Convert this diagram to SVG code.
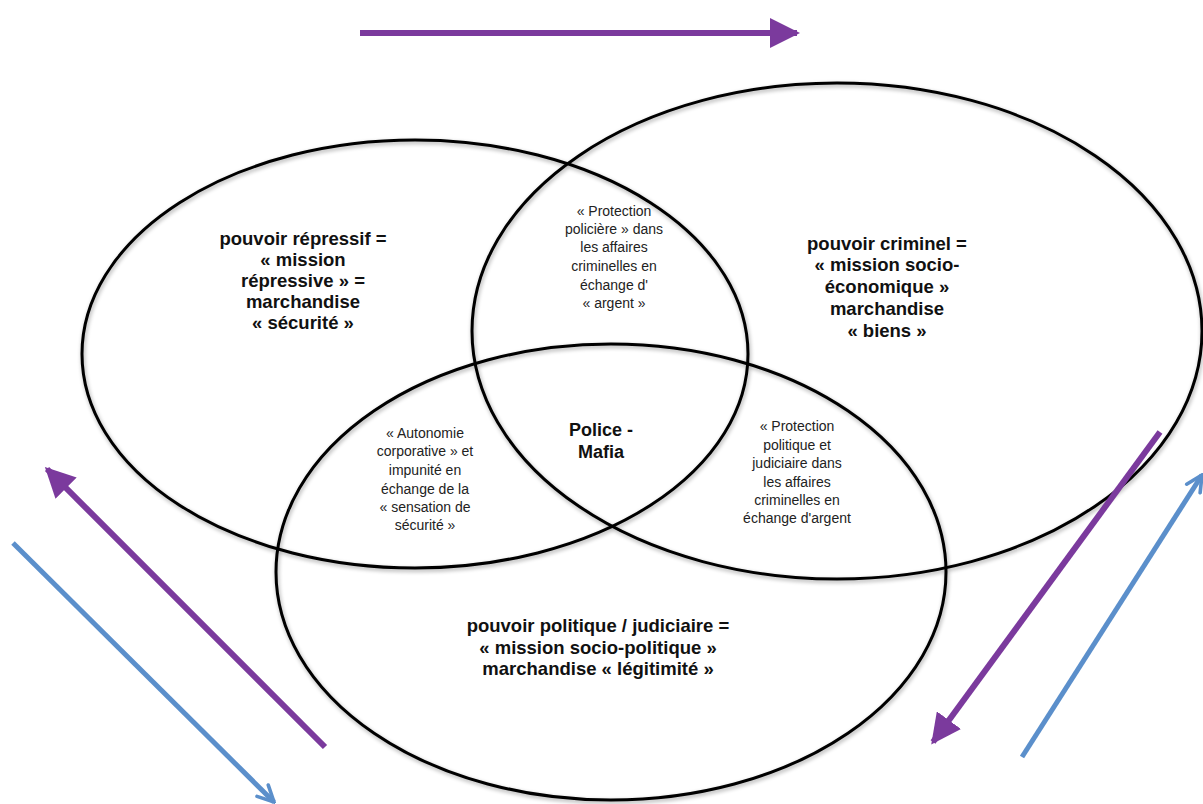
<svg xmlns="http://www.w3.org/2000/svg" width="1203" height="804" viewBox="0 0 1203 804">
<defs>
<style>
.ell{fill:none;stroke:#000;stroke-width:3}
.big{font-family:"Liberation Sans",Arial,sans-serif;font-weight:bold;font-size:18.5px;fill:#111;text-anchor:middle}
.sm{font-family:"Liberation Sans",Arial,sans-serif;font-size:14px;fill:#222;text-anchor:middle}
.pu{stroke:#7b3a9d;stroke-width:6;fill:none}
.bl{stroke:#5b8fcb;stroke-width:5;fill:none}
</style>
<marker id="ph" viewBox="0 0 10 10" refX="9" refY="5" markerWidth="5" markerHeight="5" orient="auto" markerUnits="strokeWidth">
<path d="M0,0 L10,5 L0,10 z" fill="#7b3a9d"/>
</marker>
<marker id="bh" viewBox="0 0 10 10" refX="9" refY="5" markerWidth="4" markerHeight="4" orient="auto" markerUnits="strokeWidth">
<path d="M1,1 L9,5 L1,9" fill="none" stroke="#5b8fcb" stroke-width="1.8" stroke-linecap="round"/>
</marker>
<filter id="sh" x="-10%" y="-10%" width="120%" height="120%">
<feGaussianBlur in="SourceAlpha" stdDeviation="2"/>
<feOffset dx="1" dy="2"/>
<feComponentTransfer><feFuncA type="linear" slope="0.35"/></feComponentTransfer>
<feMerge><feMergeNode/><feMergeNode in="SourceGraphic"/></feMerge>
</filter>
</defs>
<rect width="1203" height="804" fill="#fff"/>
<g id="ellipses" filter="url(#sh)">
<ellipse id="repressif" class="ell" cx="415" cy="354" rx="333" ry="214"/>
<ellipse id="criminel" class="ell" cx="837" cy="331" rx="365" ry="248"/>
<ellipse id="politique" class="ell" cx="611" cy="572" rx="335" ry="228"/>
</g>
<g id="connectors">
<line class="pu" x1="360" y1="33" x2="797" y2="33" marker-end="url(#ph)"/>
<line class="pu" x1="325" y1="747" x2="47" y2="469" marker-end="url(#ph)"/>
<line class="pu" x1="1160" y1="432" x2="933" y2="742" marker-end="url(#ph)"/>
<line class="bl" x1="13" y1="543" x2="274" y2="802" marker-end="url(#bh)"/>
<line class="bl" x1="1022" y1="757" x2="1202" y2="475" marker-end="url(#bh)"/>
</g>
<g id="label-repressif">
<text class="big" x="303" y="245">pouvoir répressif =</text>
<text class="big" x="303" y="266">« mission</text>
<text class="big" x="303" y="287">répressive » =</text>
<text class="big" x="303" y="308">marchandise</text>
<text class="big" x="303" y="329">« sécurité »</text>
</g>
<g id="label-criminel">
<text class="big" x="887" y="250">pouvoir criminel =</text>
<text class="big" x="887" y="271">« mission socio-</text>
<text class="big" x="887" y="293">économique »</text>
<text class="big" x="887" y="315">marchandise</text>
<text class="big" x="887" y="337">« biens »</text>
</g>
<g id="label-politique">
<text class="big" x="598" y="632">pouvoir politique / judiciaire =</text>
<text class="big" x="598" y="654">« mission socio-politique »</text>
<text class="big" x="598" y="675">marchandise « légitimité »</text>
</g>
<g id="label-center">
<text class="big" x="601" y="436" style="font-size:18px">Police -</text>
<text class="big" x="601" y="458" style="font-size:18px">Mafia</text>
</g>
<g id="label-rep-crim">
<text class="sm" x="614" y="216">« Protection</text>
<text class="sm" x="614" y="234">policière » dans</text>
<text class="sm" x="614" y="252">les affaires</text>
<text class="sm" x="614" y="271">criminelles en</text>
<text class="sm" x="614" y="290">échange d'</text>
<text class="sm" x="614" y="308">« argent »</text>
</g>
<g id="label-rep-pol">
<text class="sm" x="425" y="438">« Autonomie</text>
<text class="sm" x="425" y="456">corporative » et</text>
<text class="sm" x="425" y="475">impunité en</text>
<text class="sm" x="425" y="494">échange de la</text>
<text class="sm" x="425" y="512">« sensation de</text>
<text class="sm" x="425" y="530">sécurité »</text>
</g>
<g id="label-crim-pol">
<text class="sm" x="797" y="431">« Protection</text>
<text class="sm" x="797" y="450">politique et</text>
<text class="sm" x="797" y="468">judiciaire dans</text>
<text class="sm" x="797" y="487">les affaires</text>
<text class="sm" x="797" y="505">criminelles en</text>
<text class="sm" x="797" y="523">échange d'argent</text>
</g>
</svg>
